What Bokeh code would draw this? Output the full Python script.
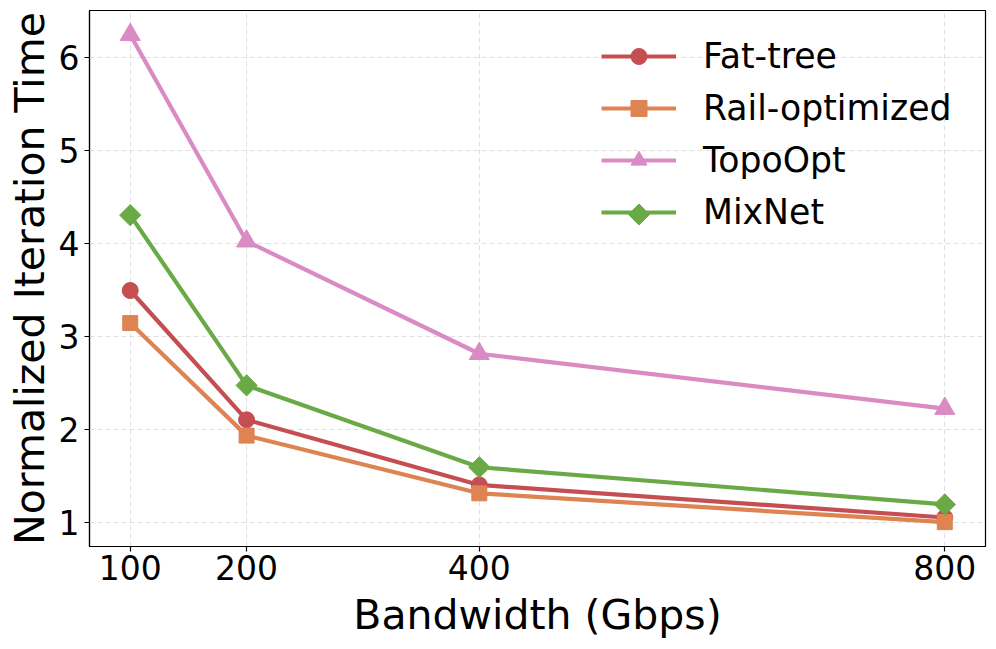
import numpy as np
from bokeh.plotting import figure
from bokeh.models import Range1d, FixedTicker, Legend, LegendItem, PolyAnnotation
from bokeh.embed import file_html
from bokeh.resources import INLINE

bandwidth = [100, 200, 400, 800]
fat_tree = [3.49, 2.10, 1.40, 1.05]
rail_optimized = [3.14, 1.93, 1.31, 1.00]
topoopt = [6.24, 4.02, 2.81, 2.22]
mixnet = [4.30, 2.47, 1.59, 1.19]
x_ticks = [100, 200, 400, 800]
y_ticks = [1, 2, 3, 4, 5, 6]

series = [
    ("Fat-tree", fat_tree, "#c44e52", "circle", 16, 0),
    ("Rail-optimized", rail_optimized, "#dd8452", "square", 15, 0),
    ("TopoOpt", topoopt, "#da8bc3", "triangle", 20, 0),
    ("MixNet", mixnet, "#6aaa46", "square", 15, np.pi / 4),
]

FONT = "DejaVu Sans"
W, H = 988, 641
BL, BR, BT, BB = 89, 3, 10, 93

p = figure(width=W, height=H, output_backend="svg", toolbar_location=None,
           x_range=Range1d(65, 835), y_range=Range1d(0.738, 6.5),
           min_border_left=BL, min_border_right=BR, min_border_top=BT, min_border_bottom=BB)

p.outline_line_color = "black"
p.outline_line_width = 1.2
p.background_fill_color = "white"

for ax in (p.xaxis[0], p.yaxis[0]):
    ax.axis_line_color = "black"
    ax.axis_line_width = 1.2
    ax.major_tick_line_color = "black"
    ax.major_tick_line_width = 1.2
    ax.major_tick_out = 5
    ax.major_tick_in = 0
    ax.minor_tick_line_color = None
    ax.major_label_text_font = FONT
    ax.major_label_text_font_size = "33px"
    ax.major_label_text_color = "black"
    ax.axis_label_text_font = FONT
    ax.axis_label_text_font_size = "41px"
    ax.axis_label_text_font_style = "normal"
    ax.axis_label_text_color = "black"

p.xaxis.ticker = FixedTicker(ticks=x_ticks)
p.yaxis.ticker = FixedTicker(ticks=y_ticks)
p.xaxis.axis_label = "Bandwidth (Gbps)"
p.yaxis.axis_label = "Normalized Iteration Time"
p.xaxis.major_label_standoff = 3
p.yaxis.major_label_standoff = 5
p.xaxis.axis_label_standoff = 8
p.yaxis.axis_label_standoff = 2

for g in (p.xgrid[0], p.ygrid[0]):
    g.grid_line_color = "#e0e0e0"
    g.grid_line_dash = "5 3"
    g.grid_line_width = 1
p.xgrid.ticker = FixedTicker(ticks=x_ticks)
p.ygrid.ticker = FixedTicker(ticks=y_ticks)

items = []
for name, vals, color, marker, size, angle in series:
    r1 = p.line(bandwidth, vals, line_color=color, line_width=4.2)
    r2 = p.scatter(bandwidth, vals, marker=marker, size=size, angle=angle,
                   fill_color=color, line_color=color)
    # legend keys ignore marker rotation, so the diamond key is drawn separately
    items.append(LegendItem(label=name, renderers=[r1] if angle else [r1, r2]))

LEG_X, LEG_Y = 512, 314
GW, GH, SP = 75, 40, 12
legend = Legend(items=items, location=(LEG_X, LEG_Y), padding=0, margin=0,
                border_line_alpha=0, background_fill_alpha=0,
                glyph_width=GW, glyph_height=GH, label_height=GH,
                label_standoff=27, spacing=SP,
                label_text_font=FONT, label_text_font_size="34.7px",
                label_text_color="black")
p.add_layout(legend)

# diamond key for the last legend row, in canvas pixels
n = len(series)
leg_h = n * GH + (n - 1) * SP
frame_bottom = H - BB
cx = BL + LEG_X + GW / 2
cy = frame_bottom - LEG_Y - leg_h + (n - 1) * (GH + SP) + GH / 2
r = 10.5
diamond_key = PolyAnnotation(xs=[cx, cx + r, cx, cx - r], ys=[cy - r, cy, cy + r, cy],
                             xs_units="canvas", ys_units="canvas",
                             fill_color=series[-1][2], fill_alpha=1.0,
                             line_color=series[-1][2], line_alpha=1.0)
p.add_layout(diamond_key)

open("out.html", "w").write(file_html(p, INLINE))
